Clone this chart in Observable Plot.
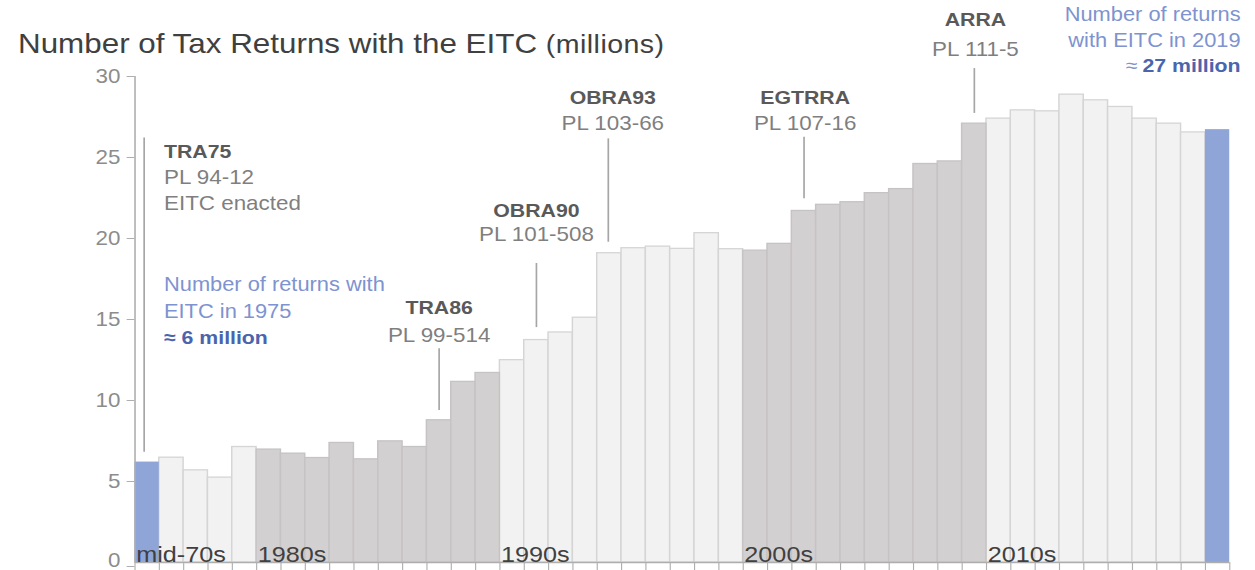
<!DOCTYPE html>
<html>
<head>
<meta charset="utf-8">
<script src="https://cdn.jsdelivr.net/npm/d3@7"></script>
<script src="https://cdn.jsdelivr.net/npm/@observablehq/plot@0.6"></script>
<style>
  html, body { margin: 0; padding: 0; background: #ffffff; }
  #wrap { position: relative; width: 1255px; height: 570px; overflow: hidden; font-family: "Liberation Sans", Arial, sans-serif; }
  #chart { position: absolute; left: 0; top: 0; }
  #title { position: absolute; left: 18px; top: 30px; font-size: 28px; line-height: 28px; color: #404040; white-space: nowrap; transform-origin: 0 0; }
  #title .unit { font-size: 25.5px; letter-spacing: 0.4px; }
</style>
</head>
<body>
<div id="wrap">
  <div id="chart"></div>
  <div id="title">Number of Tax Returns with the EITC <span class="unit">(millions)</span></div>
</div>
<script>
// ---------- data ----------
const years = [1975, 1976, 1977, 1978, 1979,
  1980, 1981, 1982, 1983, 1984, 1985, 1986, 1987, 1988, 1989,
  1990, 1991, 1992, 1993, 1994, 1995, 1996, 1997, 1998, 1999,
  2000, 2001, 2002, 2003, 2004, 2005, 2006, 2007, 2008, 2009,
  2010, 2011, 2012, 2013, 2014, 2015, 2016, 2017, 2018, 2019];
const returnsMillions = [6.2, 6.47, 5.69, 5.24, 7.13,
  6.97, 6.72, 6.45, 7.38, 6.37, 7.48, 7.13, 8.78, 11.15, 11.7,
  12.49, 13.73, 14.2, 15.11, 19.09, 19.4, 19.5, 19.36, 20.33, 19.34,
  19.25, 19.67, 21.7, 22.08, 22.24, 22.8, 23.05, 24.6, 24.76, 27.09,
  27.4, 27.91, 27.85, 28.88, 28.53, 28.12, 27.4, 27.09, 26.55, 26.72];
const decadeLabels = ["mid-70s", "1980s", "1990s", "2000s", "2010s"];
const decadeStartYears = [1975, 1980, 1990, 2000, 2010];
const yTickValues = [0, 5, 10, 15, 20, 25, 30];
const lawNames = ["TRA75", "TRA86", "OBRA90", "OBRA93", "EGTRRA", "ARRA"];
const lawNumbers = ["PL 94-12", "PL 99-514", "PL 101-508", "PL 103-66", "PL 107-16", "PL 111-5"];
const lawYears = [1975, 1987, 1991, 1994, 2002, 2009];
const lawNotes = ["EITC enacted", "", "", "", "", ""];
const startNote = ["Number of returns with", "EITC in 1975", "\u2248 6 million"];
const endNote = ["Number of returns", "with EITC in 2019", "27 million"];

// ---------- layout / style ----------
const W = 1120, H = 570, S = 1255 / W;
const colors = {
  highlight: "#8fa5d8", dark: "#d3d0d1", light: "#f2f2f2",
  darkStroke: "#c6c3c4", lightStroke: "#d5d5d5",
  axis: "#aeaeae", tickText: "#8c8c8c", lead: "#a6a6a6",
  lawBold: "#595959", lawText: "#7f7f7f", blue: "#7e93cf", blueBold: "#4a64ad", decade: "#404040"
};
const shadedDecades = [1980, 2000];
const kindOf = (year, i) => (i === 0 || i === years.length - 1) ? "highlight"
  : shadedDecades.includes(Math.floor(year / 10) * 10) ? "dark" : "light";
const bars = years.map((year, i) => ({year, value: returnsMillions[i], kind: kindOf(year, i)}));
const xMin = years[0] - 0.5, xMax = years[years.length - 1] + 0.5;
const yMax = yTickValues[yTickValues.length - 1];
const boundaries = years.map(y => y - 0.5).concat([xMax]);

// annotation placement (label centres & leader lines, in data units; offsets in px)
const lawPlace = {
  TRA75:  {anchor: "start",  dx: 15, rows: [25.33, 23.77, 22.14], line: [26.2, 6.8], ldx: -2.7},
  TRA86:  {anchor: "middle", dx: 0,  rows: [15.72, 14.01], line: [13.2, 9.38], ldx: 0},
  OBRA90: {anchor: "middle", dx: 0,  rows: [21.73, 20.23], line: [18.46, 14.5], ldx: 0},
  OBRA93: {anchor: "middle", dx: 3,  rows: [28.69, 27.08], line: [26.15, 19.77], ldx: -1},
  EGTRRA: {anchor: "middle", dx: 1,  rows: [28.69, 27.08], line: [26.25, 22.45], ldx: 0},
  ARRA:   {anchor: "middle", dx: 1,  rows: [33.5, 31.65], line: [30.49, 27.72], ldx: 0}
};

const textPair = (rows, common, boldStyle, normalStyle) => [
  Plot.text(rows.filter(d => d.bold), {...common, ...boldStyle, x: "year", y: "y", text: "text", lineAnchor: "middle"}),
  Plot.text(rows.filter(d => !d.bold), {...common, ...normalStyle, x: "year", y: "y", text: "text", lineAnchor: "middle"})
];

const lawMarks = lawNames.flatMap((name, i) => {
  const p = lawPlace[name];
  const rows = [name, lawNumbers[i], lawNotes[i]].filter(t => t)
    .map((t, j) => ({year: lawYears[i], y: p.rows[j], text: t, bold: j === 0}));
  return [
    Plot.ruleX([lawYears[i]], {y1: p.line[1], y2: p.line[0], dx: p.ldx, stroke: colors.lead, strokeWidth: 1.5}),
    ...textPair(rows, {textAnchor: p.anchor, dx: p.dx},
      {fontSize: 19, fontWeight: "bold", fill: colors.lawBold},
      {fontSize: 20, fill: colors.lawText})
  ];
});

const startRows = startNote.map((t, j) => ({year: years[0], y: [17.16, 15.45, 13.87][j], text: t, bold: j === 2}));
const endRows = endNote.map((t, j) => ({year: years[years.length - 1], y: [33.8, 32.2, 30.65][j], text: t, bold: j === 2}));

const plot = Plot.plot({
  width: W, height: H,
  marginLeft: 120, marginRight: 23, marginTop: 76, marginBottom: 8,
  style: {fontFamily: "'Liberation Sans', Arial, sans-serif", background: "transparent", overflow: "visible"},
  x: {domain: [xMin, xMax], axis: null},
  y: {domain: [0, yMax], axis: null},
  marks: [
    Plot.rectY(bars.filter(d => d.kind === "light"), {x1: d => d.year - 0.5, x2: d => d.year + 0.5, y1: 0, y2: "value", fill: colors.light, stroke: colors.lightStroke, strokeWidth: 1.3}),
    Plot.rectY(bars.filter(d => d.kind === "dark"), {x1: d => d.year - 0.5, x2: d => d.year + 0.5, y1: 0, y2: "value", fill: colors.dark, stroke: colors.darkStroke, strokeWidth: 1.3}),
    Plot.rectY(bars.filter(d => d.kind === "highlight"), {x1: d => d.year - 0.5, x2: d => d.year + 0.5, y1: 0, y2: "value", fill: colors.highlight}),
    Plot.ruleY([0], {stroke: colors.axis, strokeWidth: 1.4}),
    Plot.ruleX([xMin], {y1: 0, y2: yMax, stroke: colors.axis, strokeWidth: 1.4}),
    Plot.axisY(yTickValues.filter(v => v > 0), {anchor: "left", tickSize: 7, tickPadding: 6, fontSize: 20, fill: colors.tickText, stroke: colors.axis, label: null}),
    Plot.axisY(yTickValues.filter(v => v === 0), {anchor: "left", tickSize: 7, tickPadding: 6, fontSize: 20, fill: colors.tickText, stroke: colors.axis, label: null, textAnchor: "end", lineAnchor: "bottom", dy: 4}),
    Plot.axisX(boundaries, {anchor: "bottom", tickSize: 8, tickFormat: () => "", stroke: colors.axis, label: null}),
    Plot.text(decadeLabels, {x: (d, i) => decadeStartYears[i] - 0.5, y: 0, text: d => d, textAnchor: "start", lineAnchor: "bottom", dx: 1, dy: -1, fontSize: 22.5, fill: colors.decade}),
    ...lawMarks,
    ...textPair(startRows, {textAnchor: "start", dx: 15},
      {fontSize: 19, fontWeight: "bold", fill: colors.blueBold},
      {fontSize: 19.5, fill: colors.blue}),
    ...textPair(endRows, {textAnchor: "end", dx: 20.5},
      {fontSize: 19, fontWeight: "bold", fill: colors.blueBold},
      {fontSize: 19.5, fill: colors.blue}),
    Plot.text(endRows.filter(d => d.bold), {x: "year", y: "y", text: () => "\u2248", textAnchor: "end", lineAnchor: "middle", dx: 20.5 - 92, fontSize: 19, fill: colors.blue})
  ]
});

// stretch horizontally to match the reference's proportions
plot.setAttribute("width", 1255);
plot.setAttribute("preserveAspectRatio", "none");
plot.style.width = "1255px";
plot.style.height = H + "px";
plot.style.maxWidth = "none";
document.getElementById("chart").appendChild(plot);
document.getElementById("title").style.transform = `scaleX(${S})`;
</script>
</body>
</html>
